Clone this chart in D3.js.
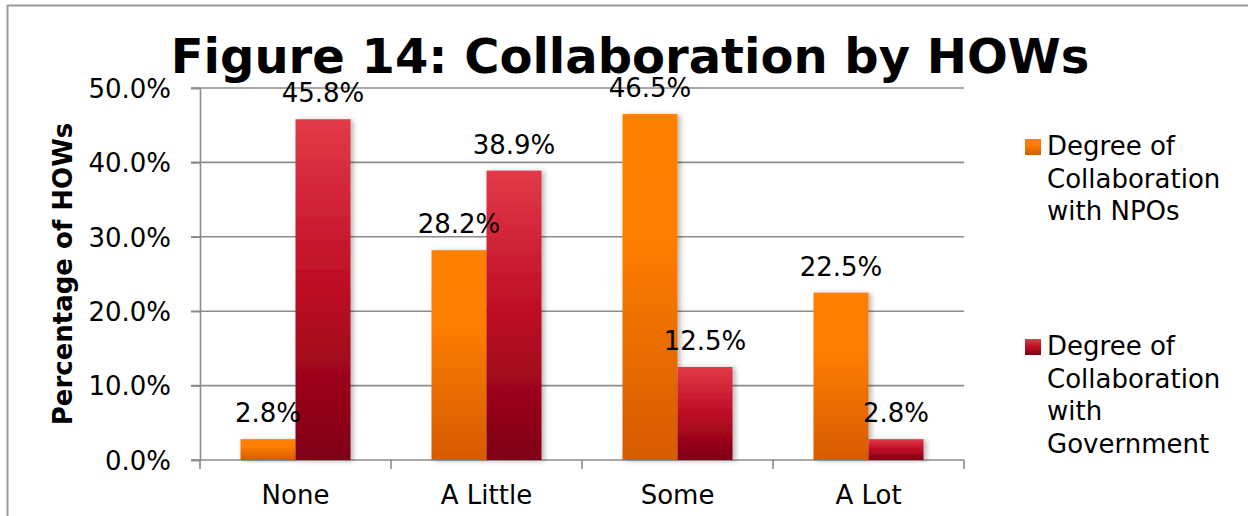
<!DOCTYPE html>
<html>
<head>
<meta charset="utf-8">
<script src="https://cdn.jsdelivr.net/npm/d3@7/dist/d3.min.js"></script>
<style>
  html, body { margin: 0; padding: 0; background: #fff; }
  svg { display: block; font-family: "DejaVu Sans", Verdana, sans-serif; }
</style>
</head>
<body>
<svg id="chart" width="1248" height="516"></svg>
<script>
// Share of HOWs by degree of collaboration
const categories = ["None", "A Little", "Some", "A Lot"];
const seriesNames = ["Degree of Collaboration with NPOs", "Degree of Collaboration with Government"];
const npoValues = [0.028, 0.282, 0.465, 0.225];
const govValues = [0.458, 0.389, 0.125, 0.028];
const yTicks = [0, 0.1, 0.2, 0.3, 0.4, 0.5];
const legendLines = [
  ["Degree of", "Collaboration", "with NPOs"],
  ["Degree of", "Collaboration", "with", "Government"]
];

const svg = d3.select("#chart");
const plot = { left: 200, right: 964, top: 88, bottom: 460 };
const gridColor = "#8c8c8c";
const fontSize = 26;

// frame edges
svg.append("line").attr("x1", 7).attr("x2", 1248).attr("y1", 5.5).attr("y2", 5.5)
  .attr("stroke", "#9a9a9a").attr("stroke-width", 2);
svg.append("line").attr("x1", 7.5).attr("x2", 7.5).attr("y1", 5).attr("y2", 516)
  .attr("stroke", "#9a9a9a").attr("stroke-width", 2);

const defs = svg.append("defs");
const gOrange = defs.append("linearGradient").attr("id", "gradNpo")
  .attr("x1", 0).attr("y1", 0).attr("x2", 0).attr("y2", 1);
[[0, "#ff8000"], [0.35, "#fd7e00"], [1, "#d65b00"]].forEach(([o, c]) =>
  gOrange.append("stop").attr("offset", o).attr("stop-color", c));
const gRed = defs.append("linearGradient").attr("id", "gradGov")
  .attr("x1", 0).attr("y1", 0).attr("x2", 0).attr("y2", 1);
[[0, "#e23a48"], [0.5, "#bd0c24"], [1, "#7e0012"]].forEach(([o, c]) =>
  gRed.append("stop").attr("offset", o).attr("stop-color", c));
const fills = ["url(#gradNpo)", "url(#gradGov)"];

const shadow = defs.append("filter").attr("id", "barShadow")
  .attr("x", "-20%").attr("y", "-10%").attr("width", "150%").attr("height", "120%");
shadow.append("feDropShadow").attr("dx", 3).attr("dy", 1).attr("stdDeviation", 2.5)
  .attr("flood-color", "#000").attr("flood-opacity", 0.28);

const x0 = d3.scaleBand().domain(categories).range([plot.left, plot.right])
  .paddingInner(0.424).paddingOuter(0.212);
const x1 = d3.scaleBand().domain([0, 1]).range([0, x0.bandwidth()]);
const y = d3.scaleLinear().domain([0, 0.5]).range([plot.bottom, plot.top]);

// horizontal gridlines with their tick stubs
svg.append("g").selectAll("line").data(yTicks).join("line")
  .attr("x1", plot.left - 9).attr("x2", plot.right)
  .attr("y1", d => y(d)).attr("y2", d => y(d))
  .attr("stroke", gridColor).attr("stroke-width", 1.6);

// y axis
const yAxis = svg.append("g").attr("transform", `translate(${plot.left},0)`)
  .call(d3.axisLeft(y).tickValues(yTicks).tickFormat(d3.format(".1%")).tickSize(9).tickPadding(20));
yAxis.select(".domain").attr("stroke", gridColor).attr("stroke-width", 1.6);
yAxis.selectAll(".tick line").attr("stroke", gridColor).attr("stroke-width", 1.6);
yAxis.selectAll(".tick text").attr("font-size", fontSize).attr("fill", "#000")
  .attr("font-family", "DejaVu Sans").attr("dy", "0.36em");

// category boundary ticks
const bounds = d3.range(categories.length + 1).map(i => plot.left + i * x0.step());
svg.append("g").selectAll("line").data(bounds).join("line")
  .attr("x1", d => d).attr("x2", d => d)
  .attr("y1", plot.bottom).attr("y2", plot.bottom + 9)
  .attr("stroke", gridColor).attr("stroke-width", 1.6);

// x axis labels
const xAxis = svg.append("g").attr("transform", `translate(0,${plot.bottom})`)
  .call(d3.axisBottom(x0).tickSize(0).tickPadding(0));
xAxis.select(".domain").remove();
xAxis.selectAll(".tick text").attr("font-size", fontSize).attr("fill", "#000")
  .attr("font-family", "DejaVu Sans").attr("y", 44).attr("dy", 0);

// bars
const data = categories.map((c, i) => ({ cat: c, vals: [npoValues[i], govValues[i]] }));
const groups = svg.append("g").selectAll("g").data(data).join("g")
  .attr("transform", d => `translate(${x0(d.cat)},0)`);

groups.selectAll("rect").data(d => d.vals.map((v, s) => ({ v, s }))).join("rect")
  .attr("x", d => x1(d.s))
  .attr("width", x1.bandwidth())
  .attr("y", d => y(d.v))
  .attr("height", d => y(0) - y(d.v))
  .attr("fill", d => fills[d.s])
  .attr("filter", "url(#barShadow)");

// value labels
groups.selectAll("text").data(d => d.vals.map((v, s) => ({ v, s }))).join("text")
  .attr("x", d => x1(d.s) + x1.bandwidth() / 2)
  .attr("y", d => y(d.v) - 17)
  .attr("text-anchor", "middle")
  .attr("font-size", fontSize)
  .attr("fill", "#000")
  .text(d => d3.format(".1%")(d.v));

// title
svg.append("text").attr("x", 630).attr("y", 73).attr("text-anchor", "middle")
  .attr("font-size", 48).attr("font-weight", "bold").attr("fill", "#000")
  .text("Figure 14: Collaboration by HOWs");

// y axis title
svg.append("text").attr("transform", `translate(72,${(plot.top + plot.bottom) / 2}) rotate(-90)`)
  .attr("text-anchor", "middle").attr("font-size", 26).attr("font-weight", "bold")
  .attr("fill", "#000").text("Percentage of HOWs");

// legend
const legendTops = [139, 339];
const legend = svg.append("g").selectAll("g").data(seriesNames).join("g")
  .attr("transform", (d, i) => `translate(1025,${legendTops[i]})`);
legend.append("rect").attr("width", 16).attr("height", 16)
  .attr("fill", (d, i) => fills[i]);
legend.each(function (d, i) {
  const t = d3.select(this).append("text").attr("font-size", fontSize).attr("fill", "#000");
  legendLines[i].forEach((ln, k) =>
    t.append("tspan").attr("x", 22).attr("y", 16 + k * 32.5).text(ln));
});
</script>
</body>
</html>
